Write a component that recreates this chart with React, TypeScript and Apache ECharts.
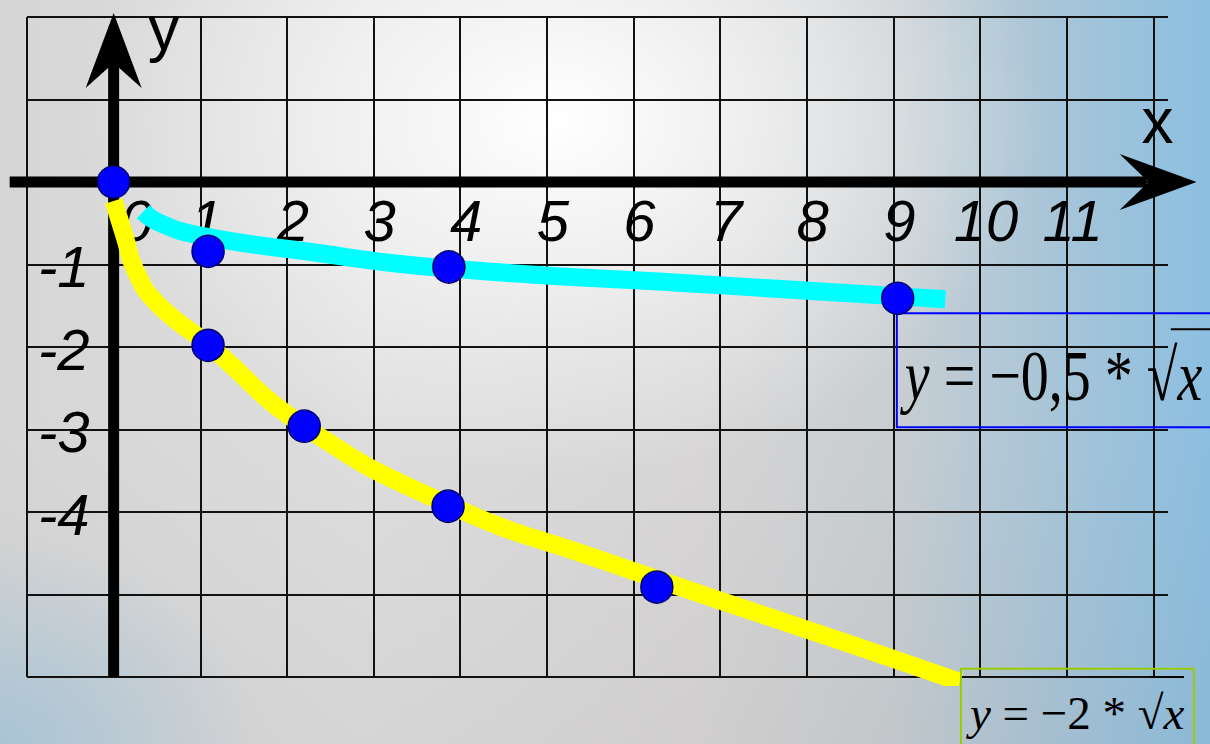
import React, { useEffect, useRef } from 'react';
import * as echarts from 'echarts';

// Axis ranges and tick labels
const X_MIN = -1;
const X_MAX = 12.17;
const Y_MIN = -6;
const Y_MAX = 2;
const X_TICK_LABELS = ['0', '1', '2', '3', '4', '5', '6', '7', '8', '9', '10', '11'];
const Y_TICK_LABELS = ['-1', '-2', '-3', '-4'];

// Curves as drawn in the picture (x, y)
const YELLOW_CURVE: [number, number][] = [
  [0.0, -0.23], [0.13, -0.67], [0.25, -1.07], [0.5, -1.47], [1.09, -1.97],
  [2.2, -2.96], [3.86, -3.91], [5.62, -4.58], [7.93, -5.4], [9.03, -5.79], [9.77, -6.06],
];
const CYAN_CURVE: [number, number][] = [
  [0.34, -0.36], [0.54, -0.5], [1.0, -0.65], [2.15, -0.83], [3.77, -1.04],
  [6.97, -1.25], [9.6, -1.42],
];

// Marked points (x, y)
const YELLOW_POINTS: [number, number][] = [
  [0, 0], [1.09, -1.98], [2.2, -2.96], [3.86, -3.93], [6.27, -4.91], [9.03, -6.06],
];
const CYAN_POINTS: [number, number][] = [
  [1.09, -0.84], [3.87, -1.03], [9.05, -1.41],
];

const FORMULA_CYAN = '{i|y}{n| = −0,5 * √}{i|x}';
const FORMULA_YELLOW = '{i|y}{n| = −2 * √}{i|x}';

export default function App() {
  const ref = useRef<HTMLDivElement>(null);

  useEffect(() => {
    const chart = echarts.init(ref.current!, null, { renderer: 'svg' });
    chart.setOption({
      animation: false,
      backgroundColor: 'transparent',
      grid: { left: 27, right: 42, top: 17, bottom: 67, containLabel: false, outerBoundsMode: 'none' },
      xAxis: {
        type: 'value',
        min: X_MIN,
        max: X_MAX,
        interval: 1,
        axisLine: { show: false },
        axisTick: { show: false },
        axisLabel: { show: false },
        splitLine: { show: true, showMaxLine: false, lineStyle: { color: '#111', width: 2 } },
      },
      yAxis: {
        type: 'value',
        min: Y_MIN,
        max: Y_MAX,
        interval: 1,
        axisLine: { show: false },
        axisTick: { show: false },
        axisLabel: { show: false },
        splitLine: { show: true, lineStyle: { color: '#111', width: 2 } },
      },
      series: [
        {
          type: 'line',
          data: CYAN_CURVE,
          smooth: 0.5,
          showSymbol: false,
          silent: true,
          z: 2,
          lineStyle: { color: '#00ffff', width: 18, cap: 'butt', join: 'round' },
        },
        {
          type: 'line',
          data: YELLOW_CURVE,
          smooth: 0.5,
          showSymbol: false,
          silent: true,
          z: 2,
          lineStyle: { color: '#ffff00', width: 18, cap: 'butt', join: 'round' },
        },
        {
          type: 'scatter',
          data: [...YELLOW_POINTS, ...CYAN_POINTS],
          symbolSize: 32,
          z: 4,
          itemStyle: { color: '#0000ff', borderColor: '#00006a', borderWidth: 1.5, opacity: 1 },
        },
      ],
    });

    const px = (p: number[]) => chart.convertToPixel({ seriesIndex: 0 }, p) as number[];
    const o = px([0, 0]);
    const xs = px([-1.2, 0]);
    const xe = px([12.5, 0]);
    const yt = px([0, 2.05]);
    const yb = px([0, Y_MIN]);
    const b1 = px([9.04, -1.59]);
    const b2 = px([9.78, -5.9]);
    const axisStyle = { stroke: '#000', lineWidth: 11 };
    const serif = '"Liberation Serif", "Times New Roman", serif';
    const sans = '"Liberation Sans", Arial, sans-serif';

    const xLabels = X_TICK_LABELS.map((t) => {
      const p = px([Number(t), 0]);
      return {
        type: 'text', z: 0, silent: true,
        x: p[0] + (t === '0' ? 23 : 6), y: o[1] + 38,
        style: { text: t, fontFamily: sans, fontStyle: 'italic', fontSize: 58, lineHeight: 50, fill: '#000', align: 'center', verticalAlign: 'middle' },
      };
    });
    const yLabels = Y_TICK_LABELS.map((t) => {
      const p = px([0, Number(t)]);
      return {
        type: 'text', z: 0, silent: true,
        x: o[0] - 24, y: p[1] + 2,
        style: { text: t, fontFamily: sans, fontStyle: 'italic', fontSize: 58, lineHeight: 50, fill: '#000', align: 'right', verticalAlign: 'middle' },
      };
    });

    chart.setOption({
      graphic: [
        ...xLabels,
        ...yLabels,
        // x axis
        { type: 'line', z: 1, silent: true, shape: { x1: xs[0], y1: o[1], x2: xe[0] - 50, y2: o[1] }, style: axisStyle },
        {
          type: 'polygon', z: 1, silent: true,
          shape: { points: [[xe[0], o[1]], [xe[0] - 77, o[1] - 28], [xe[0] - 48, o[1]], [xe[0] - 77, o[1] + 28]] },
          style: { fill: '#000' },
        },
        // y axis
        { type: 'line', z: 1, silent: true, shape: { x1: o[0], y1: yb[1], x2: o[0], y2: yt[1] + 50 }, style: axisStyle },
        {
          type: 'polygon', z: 1, silent: true,
          shape: { points: [[o[0], yt[1]], [o[0] - 28, yt[1] + 75], [o[0], yt[1] + 50], [o[0] + 28, yt[1] + 75]] },
          style: { fill: '#000' },
        },
        // axis names
        {
          type: 'text', z: 1, silent: true, x: xe[0] - 39, y: o[1] - 61,
          style: { text: 'x', fontFamily: sans, fontSize: 64, lineHeight: 46, fill: '#000', align: 'center', verticalAlign: 'middle' },
        },
        {
          type: 'text', z: 1, silent: true, x: o[0] + 50, y: yt[1] + 15,
          style: { text: 'y', fontFamily: sans, fontSize: 64, lineHeight: 26, fill: '#000', align: 'center', verticalAlign: 'middle' },
        },
        // formula box for cyan curve
        {
          type: 'rect', z: 3, silent: true,
          shape: { x: b1[0], y: b1[1], width: 330, height: 114 },
          style: { fill: 'none', stroke: '#0000ff', lineWidth: 2 },
        },
        {
          type: 'text', z: 3, silent: true, x: b1[0] + 8, y: b1[1] + 62, scaleY: 1.3,
          style: {
            text: FORMULA_CYAN,
            fill: '#000',
            align: 'left',
            verticalAlign: 'middle',
            fontSize: 56,
            fontFamily: serif,
            rich: {
              i: { fontStyle: 'italic', fontSize: 56, fontFamily: serif, fill: '#000' },
              n: { fontSize: 56, fontFamily: serif, fill: '#000' },
            },
          },
        },
        {
          type: 'line', z: 3, silent: true,
          shape: { x1: b1[0] + 274, y1: b1[1] + 16, x2: 1215, y2: b1[1] + 16 },
          style: { stroke: '#000', lineWidth: 2 },
        },
        // formula box for yellow curve
        {
          type: 'rect', z: 3, silent: true,
          shape: { x: b2[0], y: b2[1], width: 233, height: 90 },
          style: { fill: 'none', stroke: '#99cc00', lineWidth: 2 },
        },
        {
          type: 'text', z: 3, silent: true, x: b2[0] + 9, y: b2[1] + 44,
          style: {
            text: FORMULA_YELLOW,
            fill: '#000',
            align: 'left',
            verticalAlign: 'middle',
            fontSize: 47,
            fontFamily: serif,
            rich: {
              i: { fontStyle: 'italic', fontSize: 47, fontFamily: serif, fill: '#000' },
              n: { fontSize: 47, fontFamily: serif, fill: '#000' },
            },
          },
        },
        {
          type: 'line', z: 3, silent: true,
          shape: { x1: b2[0] + 190, y1: yb[1], x2: b2[0] + 223, y2: yb[1] },
          style: { stroke: '#000', lineWidth: 2 },
        },
      ],
    });

    return () => chart.dispose();
  }, []);

  return (
    <div
      ref={ref}
      style={{
        position: 'fixed',
        left: 0,
        top: 0,
        width: 1210,
        height: 744,
        background:
          'radial-gradient(ellipse 40% 48% at 46% 16%, rgba(255,255,255,1) 0%, rgba(255,255,255,0.55) 45%, rgba(255,255,255,0) 100%),' +
          'radial-gradient(ellipse 22% 28% at 0% 100%, rgba(165,195,215,0.9) 0%, rgba(165,195,215,0) 100%),' +
          'linear-gradient(to bottom, rgba(0,0,0,0) 55%, rgba(120,110,110,0.08) 100%),' +
          'linear-gradient(to right, #d6d6d6 0%, #dedede 30%, #d8d6d6 58%, #c8ced2 74%, #a8c5d8 87%, #8cbfe0 100%)',
      }}
    />
  );
}
